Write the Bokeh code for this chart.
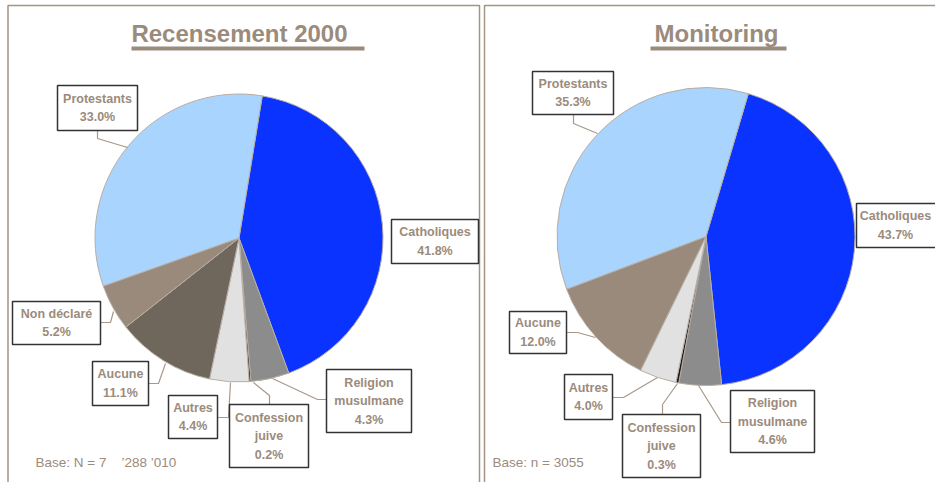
import numpy as np
from bokeh.plotting import figure
from bokeh.models import Range1d, ColumnDataSource
from bokeh.embed import file_html
from bokeh.resources import INLINE
from bokeh.core.properties import value

# ---------------- data ----------------
census_title = "Recensement 2000"
census_labels = ["Catholiques", "Religion musulmane", "Confession juive", "Autres",
                 "Aucune", "Non déclaré", "Protestants"]
census_values = [41.8, 4.3, 0.2, 4.4, 11.1, 5.2, 33.0]
census_base = "Base: N = 7\u00a0\u00a0\u00a0 ’288 ’010"

monitoring_title = "Monitoring"
monitoring_labels = ["Catholiques", "Religion musulmane", "Confession juive", "Autres",
                     "Aucune", "Protestants"]
monitoring_values = [43.7, 4.6, 0.3, 4.0, 12.0, 35.3]
monitoring_base = "Base: n = 3055"

# ---------------- styles ----------------
TAUPE = "#9b8b7c"
FONT = value("Liberation Sans")
census_colors = ["#0b33ff", "#8c8c8c", "#1a1a1a", "#e1e1e1", "#6f675c", "#9a8a7b", "#a8d4fe"]
monitoring_colors = ["#0b33ff", "#8c8c8c", "#1a1a1a", "#e1e1e1", "#9a8a7b", "#a8d4fe"]

# display names (line breaks) for labels
display = {"Religion musulmane": ["Religion", "musulmane"],
           "Confession juive": ["Confession", "juive"]}

# layout (picture pixel coordinates) : boxes (x0, y0, x1, y1) and leader polylines
census_layout = {
    "center": (238.5, 237.5), "radius": 144, "start": 9.3, "title_x": 239,
    "ul": (131, 364), "base_x": 35,
    "boxes": {
        "Protestants": (57, 85, 137, 130),
        "Catholiques": (391, 219, 478, 263),
        "Non déclaré": (12, 301, 100, 344),
        "Aucune": (92, 361, 148, 405),
        "Autres": (168, 395, 217, 438),
        "Confession juive": (229, 404, 308, 467),
        "Religion musulmane": (326, 369, 411, 432),
    },
    "text_x": {},
    "leaders": {
        "Protestants": [(97, 130), (97, 138), (127, 147)],
        "Non déclaré": [(100, 322), (110, 322), (113, 311)],
        "Aucune": [(148, 383), (158, 383), (165, 363)],
        "Autres": [(217, 417), (228, 417), (230, 382)],
        "Confession juive": [(269, 404), (269, 395), (253, 382)],
        "Religion musulmane": [(326, 399), (317, 399), (272, 378)],
    },
}
monitoring_layout = {
    "center": (705.5, 236), "radius": 149, "start": 16.5, "title_x": 716,
    "ul": (650, 786), "base_x": 492,
    "boxes": {
        "Protestants": (532, 71, 613, 114),
        "Catholiques": (856, 203, 950, 247),
        "Aucune": (509, 311, 566, 353),
        "Autres": (564, 374, 612, 419),
        "Confession juive": (622, 414, 700, 477),
        "Religion musulmane": (730, 390, 814, 452),
    },
    "text_x": {"Catholiques": 895},
    "leaders": {
        "Protestants": [(573, 114), (573, 123), (597, 133)],
        "Aucune": [(566, 332), (577, 332), (595, 337)],
        "Autres": [(612, 397), (623, 397), (657, 377)],
        "Confession juive": [(662, 414), (662, 404), (677, 383)],
        "Religion musulmane": [(730, 422), (721, 422), (698, 385)],
    },
}

W, H = 935, 482


def Y(y):
    return 490 - y


p = figure(width=W, height=H, x_range=Range1d(0, 935), y_range=Range1d(8, 490),
           output_backend="svg", toolbar_location=None, x_axis_type=None, y_axis_type=None,
           min_border=0, outline_line_color=None)

# panel borders
p.multi_line(xs=[[7.5, 7.5, 479, 479], [484, 484, 945]],
             ys=[[Y(495), Y(5), Y(5), Y(495)], [Y(495), Y(5), Y(5)]],
             line_color="#a49484", line_width=1.5)


def draw_panel(title, labels, values, colors, base, lay):
    cx, cy = lay["center"]
    vals = np.array(values, dtype=float)
    cum = np.concatenate([[0.0], np.cumsum(vals)]) / vals.sum() * 360.0
    start = np.radians(90.0 - lay["start"] - cum[:-1])
    end = np.radians(90.0 - lay["start"] - cum[1:])
    n = len(vals)
    src = ColumnDataSource(dict(x=[cx] * n, y=[Y(cy)] * n, start=start, end=end, color=colors))
    p.wedge(x="x", y="y", radius=lay["radius"], start_angle="start", end_angle="end",
            direction="clock", fill_color="color", line_color="#b8aea4", line_width=1, source=src)

    # leaders
    xs, ys = [], []
    for lab in labels:
        if lab in lay["leaders"]:
            pts = lay["leaders"][lab]
            xs.append([q[0] for q in pts])
            ys.append([Y(q[1]) for q in pts])
    p.multi_line(xs=xs, ys=ys, line_color="#a89888", line_width=1.2)

    # boxes and texts
    L, R, T, B = [], [], [], []
    tx, ty, tt = [], [], []
    for lab, v in zip(labels, values):
        x0, y0, x1, y1 = lay["boxes"][lab]
        L.append(x0); R.append(x1); T.append(Y(y0)); B.append(Y(y1))
        lines = display.get(lab, [lab]) + [f"{v:.1f}%"]
        mid = (y0 + y1) / 2.0
        step = 18.5
        xc = lay["text_x"].get(lab, (x0 + x1) / 2.0)
        for i, t in enumerate(lines):
            tx.append(xc)
            ty.append(Y(mid + (i - (len(lines) - 1) / 2.0) * step))
            tt.append(t)
    p.quad(left=L, right=R, top=T, bottom=B, fill_color="white", line_color="#333333",
           line_width=1.5)
    p.text(x=tx, y=ty, text=tt, text_font=FONT, text_font_style="bold",
           text_font_size="12.5px", text_color=TAUPE, text_align="center",
           text_baseline="middle")

    # title + underline
    p.text(x=[lay["title_x"]], y=[Y(32.5)], text=[title], text_font=FONT,
           text_font_style="bold", text_font_size="24px", text_color=TAUPE,
           text_align="center", text_baseline="middle")
    u0, u1 = lay["ul"]
    p.quad(left=[u0], right=[u1], top=[Y(46)], bottom=[Y(50)], fill_color=TAUPE,
           line_color=None)

    # base
    p.text(x=[lay["base_x"]], y=[Y(462)], text=[base], text_font=FONT,
           text_font_size="13.5px", text_color=TAUPE, text_align="left",
           text_baseline="middle")


draw_panel(census_title, census_labels, census_values, census_colors, census_base, census_layout)
draw_panel(monitoring_title, monitoring_labels, monitoring_values, monitoring_colors,
           monitoring_base, monitoring_layout)

open("out.html", "w").write(file_html(p, INLINE))
